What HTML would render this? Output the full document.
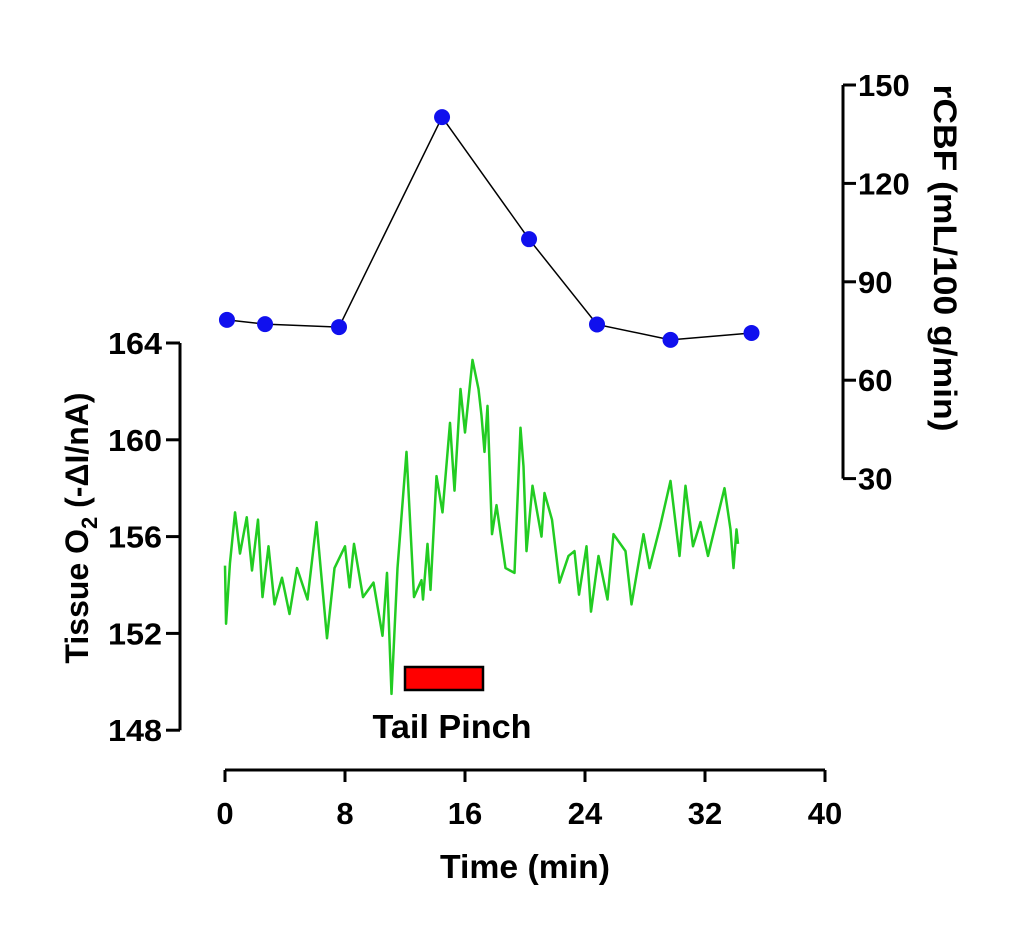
<!DOCTYPE html>
<html><head><meta charset="utf-8"><style>
body{margin:0;background:#fff}
svg{font-family:"Liberation Sans",sans-serif;font-weight:bold}
</style></head><body>
<svg width="1024" height="939" id="chart">
</svg>
<script>
const cbfTime=[0.13,2.67,7.6,14.47,20.27,24.8,29.7,35.1];
const cbfValues=[78.4,77.1,76.2,140.2,103,77,72.3,74.4];
const o2Time=[0,0.07,0.33,0.67,1.0,1.45,1.8,2.2,2.5,2.9,3.3,3.8,4.3,4.8,5.5,6.1,6.8,7.3,8.0,8.3,8.6,9.2,9.9,10.5,10.8,11.1,11.5,12.1,12.6,13.1,13.2,13.5,13.7,14.1,14.5,15.0,15.3,15.7,16.0,16.5,16.9,17.1,17.3,17.5,17.8,18.1,18.7,19.3,19.7,19.9,20.1,20.5,21.1,21.3,21.8,22.3,22.9,23.3,23.6,24.1,24.4,24.9,25.5,25.9,26.7,27.1,27.9,28.3,29.0,29.7,30.3,30.7,31.2,31.7,32.2,33.3,33.7,33.9,34.1,34.2];
const o2Values=[154.8,152.4,154.9,157.0,155.3,156.8,154.6,156.7,153.5,155.6,153.2,154.3,152.8,154.7,153.4,156.6,151.8,154.7,155.6,153.9,155.7,153.5,154.1,151.9,154.5,149.5,154.7,159.5,153.5,154.2,153.4,155.7,153.8,158.5,157.0,160.7,157.9,162.1,160.3,163.3,162.1,161.0,159.5,161.4,156.1,157.3,154.7,154.5,160.5,158.9,155.4,158.1,156.0,157.8,156.7,154.1,155.2,155.4,153.6,155.6,152.9,155.2,153.4,156.1,155.4,153.2,156.1,154.7,156.4,158.3,155.2,158.1,155.6,156.6,155.2,158.0,156.3,154.7,156.3,155.7];
const xTicks=[0,8,16,24,32,40];
const leftTicks=[148,152,156,160,164];
const rightTicks=[30,60,90,120,150];
const pinch=[12,17.2];

const X=t=>225+t*15;
const YL=v=>343+(164-v)*24.2;
const YR=v=>85+(150-v)*3.28;
const svg=document.getElementById('chart');
const NS='http://www.w3.org/2000/svg';
function mk(tag,attrs,parent){const e=document.createElementNS(NS,tag);for(const k in attrs)e.setAttribute(k,attrs[k]);(parent||svg).appendChild(e);return e;}
function txt(s,attrs){const e=mk('text',attrs);e.textContent=s;return e;}

// x axis
let e=mk('line',{x1:225,y1:770,x2:825,y2:770,stroke:'#000','stroke-width':3});


xTicks.forEach(t=>{
  mk('line',{x1:X(t),y1:770,x2:X(t),y2:782,stroke:'#000','stroke-width':3});
  const l=txt(String(t),{x:X(t),y:824,'text-anchor':'middle','font-size':31});
  
  
});
e=txt('Time (min)',{x:525,y:878,'text-anchor':'middle','font-size':33,textLength:170,lengthAdjust:'spacingAndGlyphs'});



// left axis
e=mk('line',{x1:180,y1:YL(164),x2:180,y2:YL(148),stroke:'#000','stroke-width':3});


leftTicks.forEach(v=>{
  mk('line',{x1:166,y1:YL(v),x2:180,y2:YL(v),stroke:'#000','stroke-width':3});
  const l=txt(String(v),{x:162,y:YL(v)+11,'text-anchor':'end','font-size':31,textLength:54,lengthAdjust:'spacingAndGlyphs'});
  
  
});
e=mk('text',{transform:'translate(88,528) rotate(-90)','text-anchor':'middle','font-size':32});
e.innerHTML='Tissue O<tspan font-size="22" dy="9">2</tspan><tspan dy="-9"> (-ΔI/nA)</tspan>';



// right axis
e=mk('line',{x1:843,y1:YR(150),x2:843,y2:YR(30),stroke:'#000','stroke-width':3});


rightTicks.forEach(v=>{
  mk('line',{x1:843,y1:YR(v),x2:856,y2:YR(v),stroke:'#000','stroke-width':3});
  const l=txt(String(v),{x:858,y:YR(v)+11,'text-anchor':'start','font-size':31});
  
  
});
e=txt('rCBF (mL/100 g/min)',{transform:'translate(934,258) rotate(90)','text-anchor':'middle','font-size':32,textLength:347,lengthAdjust:'spacingAndGlyphs'});



// O2 trace
e=mk('polyline',{points:o2Time.map((t,i)=>X(t)+','+YL(o2Values[i])).join(' '),fill:'none',stroke:'#22cc22','stroke-width':2.5,'stroke-linejoin':'round'});



// CBF line + points
e=mk('polyline',{points:cbfTime.map((t,i)=>X(t)+','+YR(cbfValues[i])).join(' '),fill:'none',stroke:'#000','stroke-width':1.5});


cbfTime.forEach((t,i)=>{
  const c=mk('circle',{cx:X(t),cy:YR(cbfValues[i]),r:8,fill:'#1010ee'});
  
  
});

// tail pinch
e=mk('rect',{x:X(pinch[0]),y:667,width:X(pinch[1])-X(pinch[0]),height:23,fill:'#ff0000',stroke:'#000','stroke-width':2.5});


e=txt('Tail Pinch',{x:452,y:738,'text-anchor':'middle','font-size':33,textLength:159,lengthAdjust:'spacingAndGlyphs'});


</script>
</body></html>
